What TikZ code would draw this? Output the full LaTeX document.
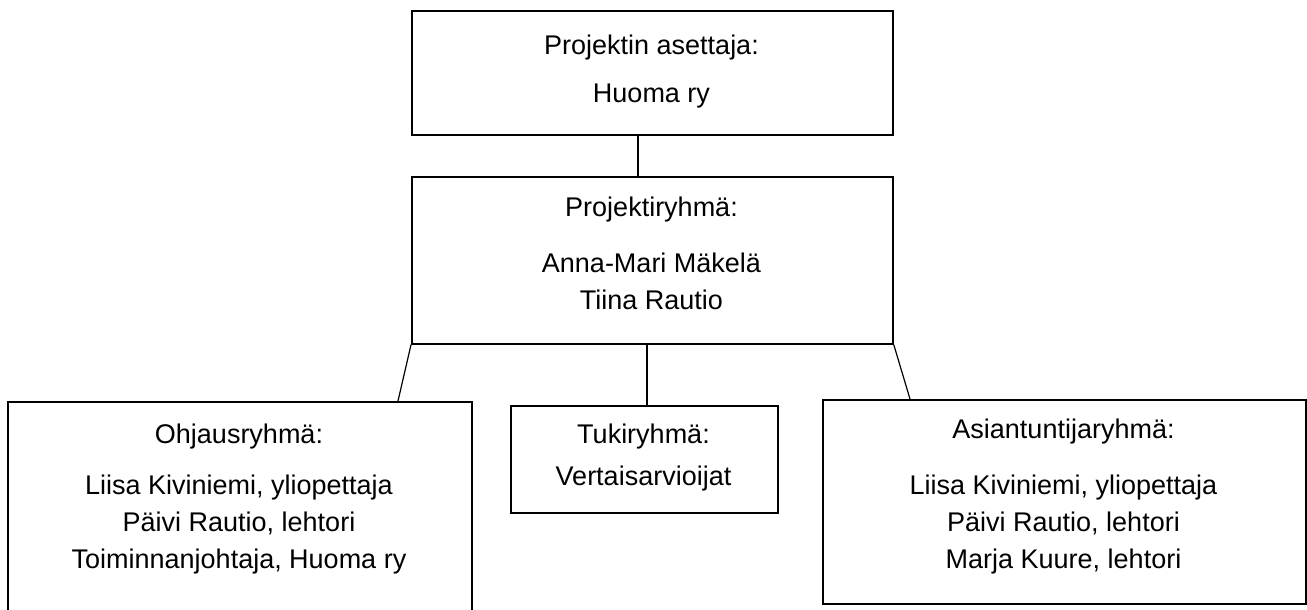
\documentclass[tikz,border=0pt]{standalone}
\usepackage{fontspec}
\setmainfont{Liberation Sans}
\tikzset{
    box/.style={draw, line width=0.9pt, inner sep=0pt, anchor=north west},
    txt/.style={anchor=base, inner sep=0pt, align=center, font=\fontsize{13.5}{18.5}\selectfont},
    link/.style={line width=0.6pt}
}
\begin{document}
\begin{tikzpicture}[x=0.5pt, y=-0.5pt]
    \useasboundingbox (0,0) rectangle (1307,610);
    \node[box, minimum width=240.5pt, minimum height=62pt] (asettaja) at (411,10) {};
    \node[box, minimum width=240.5pt, minimum height=83.5pt] (ryhma) at (411,176) {};
    \node[box, minimum width=232pt, minimum height=107pt] (ohjaus) at (7,401) {};
    \node[box, minimum width=133.5pt, minimum height=53.5pt] (tuki) at (510,405) {};
    \node[box, minimum width=241.5pt, minimum height=102pt] (asia) at (822,399) {};
    \node[txt] (asettajaA) at (651.5,55) {Projektin asettaja:};
    \node[txt] (asettajaB) at (651.5,103) {Huoma ry};
    \node[txt] (ryhmaA) at (651.5,216) {Projektiryhmä:};
    \node[txt] (ryhmaB) at (651.5,309) {Anna-Mari Mäkelä\\Tiina Rautio};
    \node[txt] (ohjausA) at (239,443) {Ohjausryhmä:};
    \node[txt] (ohjausB) at (239,568) {Liisa Kiviniemi, yliopettaja\\Päivi Rautio, lehtori\\Toiminnanjohtaja, Huoma ry};
    \node[txt] (tukiA) at (643.5,443) {Tukiryhmä:};
    \node[txt] (tukiB) at (643.5,485) {Vertaisarvioijat};
    \node[txt] (asiaA) at (1063.5,438) {Asiantuntijaryhmä:};
    \node[txt] (asiaB) at (1063.5,568) {Liisa Kiviniemi, yliopettaja\\Päivi Rautio, lehtori\\Marja Kuure, lehtori};
    \coordinate (jA) at (638,0);
    \coordinate (jT) at (647,0);
    \coordinate (jL) at (398,0);
    \coordinate (jR) at (910,0);
    \draw[link] (asettaja.south -| jA) -- (ryhma.north -| jA);
    \draw[link] (ryhma.south west) -- (ohjaus.north -| jL);
    \draw[link] (ryhma.south -| jT) -- (tuki.north -| jT);
    \draw[link] (ryhma.south east) -- (asia.north -| jR);
\end{tikzpicture}
\end{document}
